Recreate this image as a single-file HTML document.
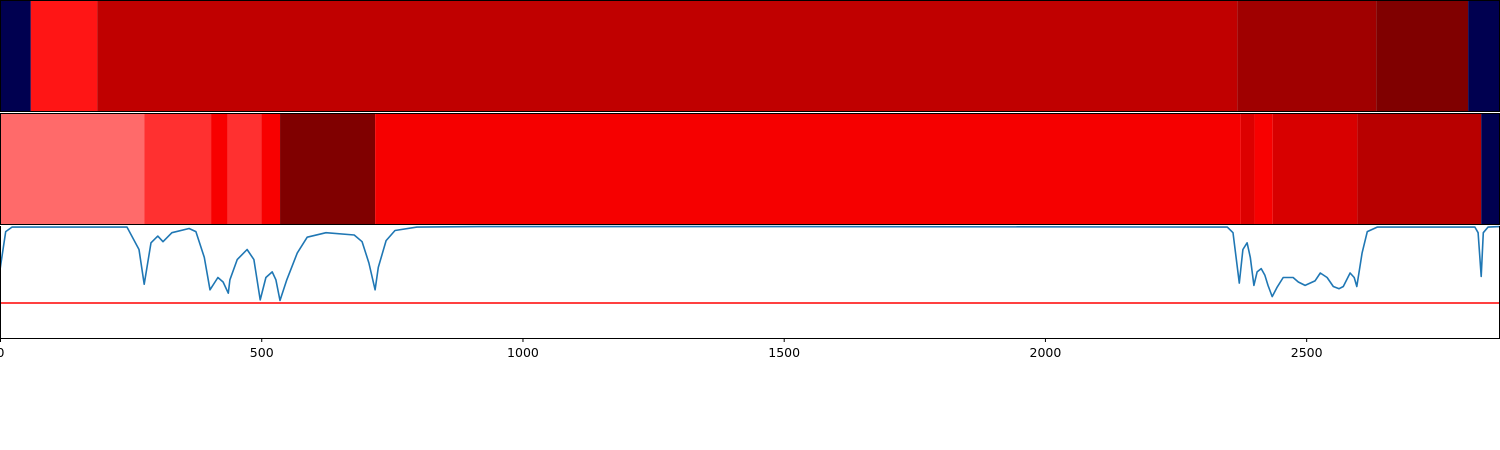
<!DOCTYPE html>
<html><head><meta charset="utf-8"><style>
body{margin:0;background:#fff;}
svg{display:block;font-family:"DejaVu Sans","Liberation Sans",sans-serif;}
</style></head><body>
<svg id="chart" width="1500" height="450" viewBox="0 0 1500 450" xmlns="http://www.w3.org/2000/svg"></svg>
<script>
// data (x in data units)
const topEdges = [0, 59, 186, 2368, 2634, 2810, 2871];
const topColors = ['#000050','#ff1515','#c00000','#a00000','#800000','#000050'];
const midEdges = [0, 276, 404, 436, 500, 536, 718, 2375, 2401, 2436, 2598, 2835, 2871];
const midColors = ['#ff6a6a','#ff3030','#f80000','#ff3030','#f80000','#800000','#f60000','#dd0000','#f80000','#d80000','#b80000','#000050'];
const lineX = [0,11,23,243,266,276,289,302,312,329,362,375,391,402,417,427,437,440,454,473,486,498,509,521,528,536,549,569,588,624,678,693,706,718,724,739,756,798,917,1500,2349,2360,2372,2379,2387,2393,2400,2406,2414,2421,2427,2435,2444,2456,2475,2485,2498,2517,2527,2540,2552,2563,2571,2584,2592,2597,2607,2617,2636,2823,2829,2835,2839,2848,2871];
const lineY = [0.61,0.95,0.99,0.99,0.79,0.48,0.85,0.91,0.86,0.94,0.978,0.95,0.72,0.43,0.54,0.50,0.40,0.52,0.70,0.79,0.70,0.34,0.54,0.59,0.52,0.335,0.52,0.76,0.90,0.94,0.92,0.86,0.67,0.43,0.63,0.87,0.96,0.99,0.995,0.995,0.99,0.94,0.49,0.79,0.85,0.72,0.47,0.59,0.62,0.56,0.47,0.37,0.45,0.54,0.54,0.50,0.47,0.51,0.58,0.54,0.46,0.44,0.46,0.58,0.54,0.46,0.76,0.95,0.99,0.99,0.94,0.55,0.94,0.99,0.995];
const threshold = 0.3125;
const xTicks = [0,500,1000,1500,2000,2500];

const NS='http://www.w3.org/2000/svg';
const svg=document.getElementById('chart');
const XMAX=2871, W=1500;
const sx=v=>v/XMAX*W;
const P={top:[0,112],mid:[113,225],plot:[226,338]};
const sy=v=>P.plot[1]-v*(P.plot[1]-P.plot[0]);
function mk(tag,attrs){const e=document.createElementNS(NS,tag);for(const k in attrs)e.setAttribute(k,attrs[k]);svg.appendChild(e);return e;}

function bands(edges,colors,row,name){
  for(let i=0;i<colors.length;i++){
    const r=mk('rect',{x:sx(edges[i]),y:row[0],width:sx(edges[i+1])-sx(edges[i]),height:row[1]-row[0],fill:colors[i]});
    
    
  }
  const f=mk('rect',{x:0.5,y:row[0]+0.5,width:W-1,height:row[1]-row[0]-1,fill:'none',stroke:'#000','stroke-width':1});
  
  
}
bands(topEdges,topColors,P.top,'top-band');
bands(midEdges,midColors,P.mid,'middle-band');

const th=mk('line',{x1:0,x2:W,y1:sy(threshold),y2:sy(threshold),stroke:'#ff0000','stroke-width':1.5});



let d='';
lineX.forEach((x,i)=>{d+=(i?'L':'M')+sx(x).toFixed(1)+','+sy(lineY[i]).toFixed(1);});
const ln=mk('path',{d:d,fill:'none',stroke:'#1f77b4','stroke-width':1.6,'stroke-linejoin':'round'});



const pf=mk('path',{d:`M0.5,${P.plot[0]}V${P.plot[1]+0.5}H${W-0.5}V${P.plot[0]}`,fill:'none',stroke:'#000','stroke-width':1});



xTicks.forEach(t=>{
  const tk=mk('line',{x1:sx(t)+0.5,x2:sx(t)+0.5,y1:P.plot[1],y2:P.plot[1]+4,stroke:'#000'});
  
  
  const tx=mk('text',{x:sx(t)+0.5,y:P.plot[1]+19,'text-anchor':'middle','font-size':'12.5',fill:'#000'});
  tx.textContent=t;
  
  
});
</script>
</body></html>
